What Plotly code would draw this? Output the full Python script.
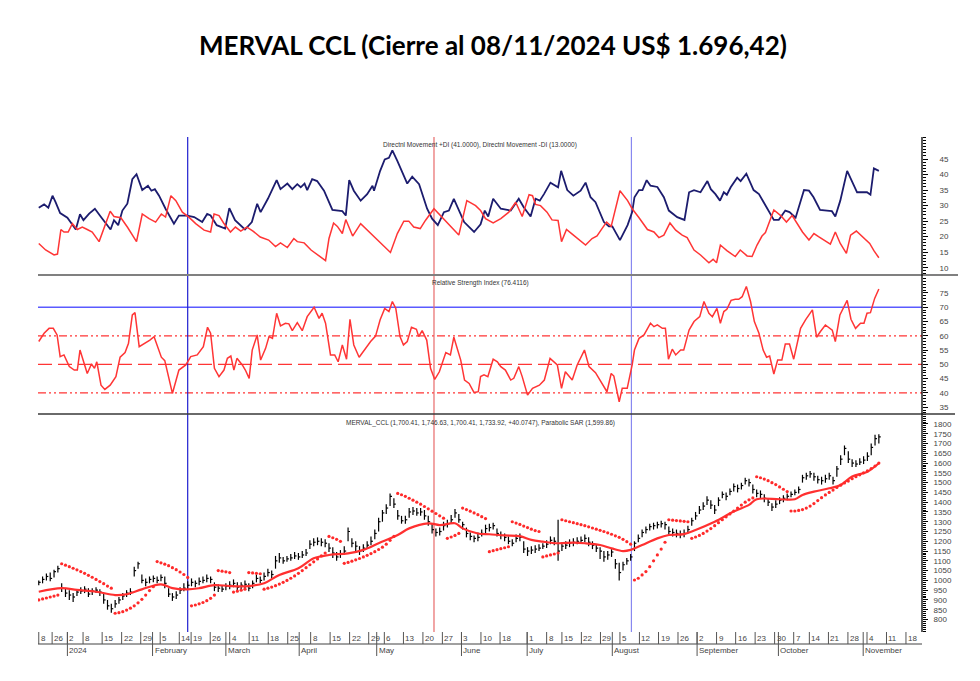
import plotly.graph_objects as go

# page has an 8px body margin, so the figure is drawn 8px smaller and positions are shifted
OFF = 8
W, H = 980 - OFF, 681 - OFF

# ---- price bars (one per trading day) ----
cl = [990, 1005, 1020, 1010, 1045, 1060, 960, 935, 925, 915,
      940, 945, 955, 930, 945, 950, 940, 900, 870, 855,
      880, 900, 920, 935, 940, 1050, 1085, 1000, 990, 1005,
      1010, 1000, 1015, 985, 930, 915, 925, 950, 960, 975,
      990, 985, 995, 1000, 1010, 1005, 965, 960, 955, 970,
      975, 985, 965, 975, 980, 960, 985, 1010, 1000, 1020,
      1040, 1030, 1100, 1115, 1100, 1110, 1115, 1125, 1120, 1130,
      1140, 1185, 1195, 1200, 1195, 1190, 1165, 1140, 1120, 1135,
      1150, 1250, 1190, 1175, 1150, 1165, 1180, 1200, 1240, 1300,
      1345, 1370, 1430, 1390, 1330, 1305, 1310, 1350, 1355, 1345,
      1350, 1330, 1300, 1260, 1245, 1250, 1280, 1290, 1310, 1345,
      1310, 1285, 1240, 1225, 1215, 1220, 1240, 1265, 1270, 1280,
      1240, 1230, 1220, 1200, 1190, 1215, 1220, 1160, 1150, 1155,
      1160, 1165, 1175, 1185, 1205, 1200, 1150, 1175, 1180, 1190,
      1195, 1200, 1205, 1215, 1195, 1180, 1165, 1150, 1120, 1130,
      1145, 1085, 1040, 1080, 1100, 1120, 1190, 1215, 1245, 1260,
      1275, 1280, 1285, 1290, 1285, 1250, 1245, 1240, 1235, 1240,
      1260, 1305, 1330, 1360, 1380, 1410, 1385, 1360, 1410, 1440,
      1430, 1455, 1480, 1470, 1485, 1510, 1500, 1465, 1445, 1440,
      1420, 1400, 1375, 1390, 1410, 1420, 1430, 1440, 1450, 1465,
      1525, 1535, 1545, 1530, 1515, 1510, 1520, 1535, 1510, 1570,
      1620, 1675, 1620, 1600, 1595, 1605, 1615, 1635, 1680, 1725, 1734]
hi = [1000, 1020, 1035, 1040, 1055, 1075, 985, 960, 950, 935,
      955, 965, 970, 960, 960, 965, 955, 935, 900, 880,
      900, 915, 935, 950, 960, 1070, 1095, 1030, 1010, 1020,
      1025, 1020, 1030, 1020, 960, 935, 945, 965, 985, 995,
      1010, 1000, 1015, 1020, 1030, 1020, 990, 980, 975, 985,
      995, 1005, 990, 990, 1000, 985, 1000, 1030, 1020, 1040,
      1060, 1050, 1125, 1140, 1120, 1125, 1135, 1145, 1140, 1150,
      1160, 1205, 1215, 1220, 1215, 1210, 1190, 1170, 1145, 1155,
      1175, 1270, 1215, 1200, 1175, 1185, 1200, 1225, 1260, 1320,
      1360, 1390, 1445, 1420, 1360, 1330, 1330, 1370, 1375, 1370,
      1370, 1360, 1330, 1290, 1265, 1270, 1300, 1310, 1335, 1365,
      1340, 1300, 1270, 1245, 1230, 1245, 1260, 1285, 1290, 1295,
      1265, 1250, 1240, 1225, 1210, 1235, 1240, 1200, 1170, 1175,
      1180, 1185, 1190, 1205, 1225, 1220, 1310, 1195, 1200, 1210,
      1215, 1220, 1225, 1235, 1220, 1200, 1185, 1170, 1150, 1150,
      1160, 1110, 1090, 1095, 1115, 1135, 1200, 1235, 1260, 1275,
      1290, 1295, 1300, 1305, 1300, 1275, 1265, 1260, 1255, 1260,
      1280, 1320, 1350, 1380, 1400, 1430, 1410, 1385, 1425, 1455,
      1450, 1470, 1495, 1490, 1500, 1525, 1520, 1490, 1465, 1460,
      1440, 1420, 1395, 1410, 1425, 1435, 1445, 1455, 1465, 1480,
      1540, 1550, 1560, 1550, 1535, 1530, 1540, 1550, 1530, 1585,
      1640, 1690, 1660, 1620, 1615, 1625, 1635, 1655, 1700, 1745, 1747]
lo = [975, 985, 1000, 995, 1015, 1040, 940, 915, 900, 890,
      920, 930, 935, 915, 925, 935, 920, 880, 850, 835,
      860, 880, 900, 915, 925, 1020, 1060, 985, 970, 985,
      990, 985, 995, 960, 915, 895, 905, 930, 945, 955,
      970, 965, 975, 985, 990, 985, 945, 940, 940, 950,
      955, 965, 945, 955, 960, 945, 960, 990, 985, 1000,
      1020, 1010, 1060, 1090, 1085, 1095, 1100, 1110, 1105, 1115,
      1125, 1160, 1175, 1180, 1175, 1170, 1145, 1115, 1100, 1115,
      1130, 1200, 1170, 1150, 1130, 1145, 1160, 1180, 1210, 1250,
      1300, 1340, 1380, 1370, 1310, 1290, 1290, 1320, 1335, 1330,
      1330, 1310, 1280, 1240, 1225, 1230, 1255, 1270, 1290, 1320,
      1295, 1260, 1220, 1205, 1195, 1200, 1225, 1240, 1250, 1260,
      1225, 1210, 1200, 1185, 1175, 1195, 1200, 1140, 1125, 1135,
      1140, 1150, 1160, 1165, 1185, 1180, 1100, 1150, 1160, 1170,
      1175, 1185, 1190, 1195, 1175, 1160, 1145, 1110, 1095, 1105,
      1120, 1060, 1000, 1050, 1080, 1100, 1150, 1195, 1220, 1240,
      1255, 1260, 1265, 1270, 1260, 1230, 1225, 1220, 1215, 1220,
      1240, 1280, 1310, 1340, 1360, 1385, 1365, 1340, 1380, 1420,
      1410, 1435, 1455, 1450, 1465, 1490, 1480, 1445, 1425, 1420,
      1400, 1380, 1355, 1370, 1390, 1400, 1410, 1425, 1435, 1445,
      1500, 1515, 1525, 1510, 1495, 1490, 1500, 1515, 1490, 1530,
      1590, 1640, 1600, 1580, 1580, 1590, 1595, 1610, 1640, 1690, 1700]

# parabolic SAR, one dot per day
sar = [900, 905, 910, 915, 920, 925,
       1085, 1078, 1070, 1062, 1054, 1045, 1036, 1026, 1016, 1005, 994, 983, 971, 960,
       832, 835, 840, 848, 858, 870, 885, 903, 925, 948, 968,
       1096, 1090, 1083, 1075, 1065, 1055, 1043, 1030, 1015,
       870, 874, 880, 887, 896, 908, 925,
       1050, 1047, 1044, 1040,
       940, 945, 950, 955,
       1040, 1038, 1036, 1034,
       955, 960, 966, 973, 981, 990, 1000, 1011, 1023, 1036, 1050, 1065, 1080, 1095, 1110, 1125, 1140,
       1225, 1218, 1210, 1200,
       1087, 1092, 1098, 1105, 1112, 1120, 1128, 1137, 1147, 1158, 1170, 1185, 1205, 1225,
       1445, 1438, 1430, 1420, 1410, 1400, 1390, 1378, 1366, 1354, 1342, 1330, 1318,
       1215, 1222, 1230, 1240,
       1370, 1362, 1354, 1345, 1336, 1326, 1316,
       1147, 1152, 1157, 1162, 1167, 1172,
       1300, 1293, 1286, 1278, 1270, 1262, 1255, 1250,
       1120, 1125, 1130, 1135, 1140,
       1310, 1305, 1300, 1295, 1290, 1285, 1280, 1274, 1268, 1262, 1256, 1250, 1243, 1236, 1228, 1220, 1210, 1198, 1185,
       1002, 1011, 1028, 1045, 1070, 1100, 1130, 1160, 1195,
       1310, 1308, 1306, 1304, 1302, 1300,
       1215, 1222, 1230, 1240, 1252, 1265, 1280, 1295, 1310, 1325, 1340, 1355, 1370, 1385, 1400, 1412, 1422,
       1530, 1525, 1518, 1510, 1500, 1490, 1478, 1466, 1454,
       1355, 1355, 1358, 1362, 1370, 1380, 1393, 1408, 1423, 1437, 1450, 1462, 1475, 1487, 1498, 1508,
       1520, 1530, 1540, 1550, 1560, 1572, 1585, 1600]

# moving average (read at turning points)
ma_x = [0, 6, 10, 15, 20, 23, 27, 32, 35, 39, 42, 46, 50, 55, 59, 63, 68, 72, 76, 81, 85, 89, 94, 97,
        102, 105, 109, 111, 115, 118, 122, 126, 129, 132, 136, 140, 143, 147, 150, 153, 155, 158, 162,
        165, 169, 172, 177, 182, 186, 188, 194, 198, 200, 203, 207, 210, 213, 217, 220]
ma_y = [942, 960, 951, 942, 925, 929, 954, 980, 960, 954, 960, 976, 971, 971, 985, 1028, 1062, 1113, 1130,
        1138, 1156, 1190, 1232, 1266, 1292, 1283, 1292, 1266, 1240, 1236, 1230, 1226, 1207, 1198, 1190,
        1193, 1190, 1181, 1164, 1150, 1156, 1181, 1215, 1232, 1237, 1258, 1300, 1352, 1386, 1415, 1415,
        1415, 1437, 1454, 1471, 1488, 1531, 1556, 1599]

# directional movement
dip_x = [0, 1.4, 2.5, 3.6, 4.4, 5.6, 7.5, 9.7, 10.8, 11.7, 13.2, 14.7, 16.2, 18.8, 19.7, 20.8, 21.9, 23.2,
         24.5, 25.6, 27.1, 28.6, 29.5, 30.4, 31.5, 33.2, 35.4, 36.7, 38.9, 40.7, 42.8, 44.1, 45, 46.6,
         48.8, 49.9, 51.4, 54, 55.8, 57.2, 58.1, 60, 62.3, 63.3, 65.1, 66.4, 67.7, 68.6, 69.6, 70.3, 71.6,
         72.9, 74.7, 76.9, 79.5, 80.4, 81.3, 82.5, 84.3, 86, 87.4, 87.8, 89.4, 90.6, 91.7, 92.6, 93.9,
         96.5, 97.8, 99.6, 101.7, 103, 104.5, 106.1, 107.4, 108.7, 111.4, 114, 115.7, 116.8, 117.7, 119,
         121, 123.6, 124.5, 125.7, 127, 128.8, 130.1, 131.2, 132.3, 134, 136, 136.8, 138.4, 140, 141.9,
         143.2, 144.5, 145.8, 148, 149.3, 150.2, 152.2, 154.2, 155.4, 156, 157.2, 158.1, 159.2, 160.2,
         162, 163.7, 165, 167.2, 169.1, 170.3, 171.6, 173.3, 175.1, 176, 177.2, 178.4, 179.4, 180.2,
         181.2, 182.9, 183.8, 185.3, 187.2, 188.6, 190.3, 192.5, 193.8, 195.5, 196.6, 198.2, 200.4,
         201.7, 202.9, 204.6, 206.4, 207.7, 208.6, 209.9, 211.7, 214.3, 216.9, 217.8, 218.7, 220]
dip_y = [29.3, 30.4, 29.3, 33.2, 31.1, 27.6, 26.1, 22.3, 27.2, 25.3, 27.4, 29, 26.5, 22.3, 25.3, 23.7, 28.4,
         30.6, 38.5, 40.1, 35, 36.4, 34.8, 35.3, 33.2, 29, 24.2, 26.8, 26.8, 26.3, 24.7, 27.3, 26.8, 23.7,
         22.6, 29.2, 25.3, 22.3, 24.7, 30.6, 27.9, 32.2, 38.2, 35.3, 37.1, 35.3, 36.9, 35.9, 37.1, 35,
         38.5, 37.9, 34.8, 28.6, 28.2, 26.8, 38.2, 34.8, 31.6, 33.7, 36.4, 34.8, 41.2, 44.9, 45.4, 47.8,
         44.4, 37.1, 39.3, 36.9, 29, 25.8, 23.7, 27.9, 28.4, 32.2, 24.7, 21.5, 24, 28.4, 26.5, 32.2, 29,
         28.4, 30, 32.2, 29.5, 26.5, 32.2, 31.6, 33.7, 37.4, 35.9, 41.2, 35, 33.2, 34.8, 37.4, 32.7, 31.1,
         24.7, 23.3, 23.3, 18.9, 23.7, 27.9, 32.7, 35, 35, 38.2, 36.4, 36, 32.7, 28.4, 26.3, 25.4, 34.3,
         35, 34.3, 37.9, 35.3, 33.7, 31.6, 34.3, 33.5, 35.9, 39, 37.9, 40.3, 35, 33.7, 30, 25.4, 25.4,
         28.4, 27.9, 26.1, 35, 34.8, 32.7, 28.6, 28.4, 28.2, 26.5, 31.6, 41.2, 34.3, 34.3, 33.5, 42, 41.2]
dim_x = [0, 1.8, 4, 4.9, 5.8, 6.6, 7.7, 8.8, 10.1, 11.4, 12.7, 14, 15.8, 17.1, 18.7, 19.7, 21.5, 23.2, 25.6,
         27.1, 28.9, 30.6, 32.1, 33.2, 34.6, 35.9, 37.6, 39.3, 41.1, 43.3, 45, 45.9, 47.2, 48.4, 50.2,
         51.5, 52.9, 54.5, 56.1, 58, 60.2, 62, 63.3, 65.1, 66.8, 67.7, 69.5, 71.3, 72.6, 74.2, 75.1, 76,
         77.2, 78.2, 79.5, 80.4, 82.2, 84.3, 86, 88.7, 90.8, 92.1, 93.9, 95.6, 96.9, 98.2, 99.9, 101.3,
         103.5, 105.2, 107.4, 110, 112.1, 114.4, 115.7, 117, 119, 121, 123.1, 124.9, 126.6, 128.4, 129.3,
         130.1, 131.4, 133.1, 134.4, 136, 136.9, 138.2, 139.7, 141, 143.2, 144.9, 146.2, 147.5, 148.7,
         149.9, 152.2, 154.2, 155.4, 157.2, 159.4, 161.1, 162.4, 163.7, 165.3, 166.8, 168.5, 169.8,
         171.6, 173.3, 175.5, 176.6, 177.5, 178.5, 180.2, 182.4, 183.7, 185.5, 186.8, 188.1, 189.4,
         190.3, 191.4, 192.5, 194.3, 195.8, 197.3, 198.6, 200, 201.7, 203, 204.2, 205.6, 207.3, 208.6,
         209.9, 211.5, 212.6, 214.1, 216.1, 217.6, 218.7, 220]
dim_y = [17.8, 15.7, 14.1, 14.4, 22.3, 21.5, 21.5, 24.2, 22.3, 23.1, 22.3, 21.5, 18.4, 23.1, 28.2, 26.5,
         26.1, 23.1, 18.4, 27.3, 25.8, 24.7, 27.3, 26.3, 33.2, 31.6, 27.9, 26.3, 24.2, 22.1, 21.5, 27.3,
         26.8, 24.4, 21.5, 23.1, 21.8, 23.1, 21.8, 19.9, 18.9, 16.8, 18, 16.5, 19.4, 18.4, 18, 15.7, 14.6,
         13.1, 12.3, 19.4, 24.4, 23.3, 21, 25.5, 20.2, 24.2, 22.1, 18.9, 16.2, 14.9, 21, 25, 25, 23.1,
         22.6, 25.3, 29, 26.8, 23.7, 20.5, 31.6, 30, 28.4, 25.8, 24.4, 25.8, 27.9, 31.1, 26.5, 33.5, 33.2,
         30.4, 30, 27.9, 25.4, 25.2, 18.4, 22.3, 20.8, 19.4, 17.3, 19.4, 20.2, 22.6, 24.7, 23.3, 34.8,
         31.6, 29, 26.1, 22.3, 21.5, 19.7, 20.5, 24.4, 22.1, 20.5, 19.7, 15.7, 14.1, 11.6, 12.7, 11.6,
         17.3, 15.5, 13.6, 15.7, 13.8, 13.6, 17.3, 20.2, 21.3, 25.2, 28.6, 26.8, 24.7, 26.8, 24.2, 21.5,
         18.9, 21, 20, 18.9, 17.6, 21.5, 17.8, 14.6, 20.5, 21.8, 19.4, 17.8, 15.5, 13.2]

# relative strength index
rsi_x = [0, 1.4, 2.7, 3.8, 4.8, 5.6, 6.6, 8, 9.3, 10.1, 10.8, 11.9, 12.7, 13.8, 14.6, 15.2, 16.3, 17.3,
         18.7, 20.2, 21.3, 22.6, 23.5, 24.5, 25.2, 26.3, 27.8, 29.1, 30.2, 32.1, 33, 34.1, 35, 36.7, 38.5,
         39.8, 41.5, 43.1, 44.2, 45, 46, 47.2, 48.5, 49.4, 50.3, 51.1, 51.9, 53.3, 54.1, 55.1, 55.9,
         57.2, 58.1, 59.4, 60.3, 61.2, 62.3, 63.3, 64.6, 65.5, 66.4, 67.7, 69, 70.3, 72.1, 73.4, 74.2,
         75.1, 76.4, 77.5, 78.4, 79.5, 80.6, 81.5, 82.5, 83.9, 85.2, 86.9, 88.2, 89.4, 90.6, 91.7, 92.6,
         93.5, 94.6, 95.5, 96.5, 97.6, 98.9, 99.5, 100.4, 101.6, 102.6, 103.7, 104.9, 106.6, 107.8,
         108.7, 110.5, 111.5, 112.7, 114, 115.1, 115.7, 116.6, 117.6, 119, 120.1, 121, 122.2, 123.6,
         124.4, 125.7, 126.6, 128, 129.3, 131.1, 132.4, 133.9, 135.8, 136.9, 137.9, 139.7, 141, 142.9,
         144.1, 145.8, 147.5, 148.8, 149.9, 150.6, 152, 152.8, 154.1, 155.4, 156, 157.2, 158.5, 160.2,
         161.1, 162, 163.3, 164.1, 164.9, 165.9, 166.8, 168.1, 168.9, 170.3, 171.6, 173.1, 174.2, 175.5,
         176.4, 177.6, 178.5, 179.4, 180.2, 181.3, 182.4, 183.3, 184.2, 185.3, 186.4, 187.4, 188.6,
         189.7, 190.6, 191.4, 192.5, 193.5, 194.6, 195.5, 196.6, 197.7, 199.5, 200.8, 202.6, 203.7,
         204.7, 206, 207.8, 208.6, 209.8, 211.7, 212.7, 213.9, 215.2, 216.1, 216.9, 217.8, 218.9, 220]
rsi_y = [58, 60.9, 62.6, 62.6, 60.3, 52.7, 53.3, 49.2, 48, 48, 55, 49.8, 46.8, 50.1, 48.6, 50.9, 42.7, 41.2,
         42.7, 45.7, 52.5, 54.1, 57.4, 67.3, 68.1, 56.2, 57.4, 58.5, 59.7, 52.5, 51.3, 44.5, 39.8, 48, 49.8,
         52.7, 53.3, 56.2, 63, 60.9, 48.6, 45.7, 48, 52.1, 52.9, 48, 52.1, 49.8, 48, 45.1, 55, 60.3, 51.5,
         55.6, 59.7, 59.1, 67.9, 63.5, 64.4, 64.2, 61.8, 64.6, 61.8, 66.7, 70, 66.1, 67.9, 64.4, 53.3,
         53.3, 50.9, 56.8, 51.8, 65.8, 56.8, 52.5, 55, 58, 59.9, 65.6, 69.6, 68.5, 72, 69.6, 59.7, 56.8,
         58, 63, 62.3, 59.7, 61.8, 58.5, 48.6, 44.7, 47.4, 54.1, 53.3, 59.5, 51.5, 44.5, 43.3, 40.1, 40.4,
         45.7, 46.3, 45.7, 51.8, 50.9, 49.2, 48, 44.5, 45.1, 49.2, 45.7, 39.2, 41.6, 42.7, 44.5, 52.1,
         49.8, 41.6, 47.4, 44.5, 49.8, 55, 49.2, 47.1, 43.3, 40.4, 46.8, 45.9, 36.9, 41.6, 41.6, 49.8, 55,
         59.1, 60.3, 64.4, 63.2, 63.8, 62.6, 62.6, 51.8, 55.3, 53.3, 55, 55, 62, 65, 66.7, 72, 67.9, 66.7,
         69.6, 64.4, 68.5, 69.3, 72.4, 72.8, 72.8, 73.7, 77.3, 72, 65, 60.9, 55, 52.5, 52.9, 46.6, 51.5,
         51.5, 57.1, 57.1, 51.8, 62.6, 65.6, 69.1, 59.5, 61.5, 63.8, 62, 58, 67.3, 72.4, 65.8, 62.6, 64.4,
         64.4, 67.9, 68.1, 73.1, 76.4]
rsi_levels = [70, 60, 50, 40]

# marker lines and date axis
vlines = [39.0, 103.5, 155.2]
week_x = [0, 3.5, 7.5, 11.6, 16.6, 21.7, 26.7, 31.8, 36.8, 39.9, 44.9, 50.0, 55.1, 60.1, 65.2, 71.2,
          76.3, 81.4, 86.4, 90.5, 95.5, 100.6, 105.7, 110.7, 115.8, 120.8, 127.9, 133.0, 137.0, 142.1,
          147.1, 152.2, 157.3, 162.3, 167.4, 172.4, 177.5, 182.5, 187.6, 192.7, 197.7, 201.8, 206.8,
          211.9, 216.9, 222.0, 227.1]
week_lbl = ["8", "26", "2", "8", "15", "22", "29", "5", "14", "19", "26", "4", "11", "18", "25", "8",
            "15", "22", "29", "6", "13", "20", "27", "3", "10", "18", "1", "8", "15", "22", "29", "5",
            "12", "19", "26", "2", "9", "16", "23", "30", "7", "14", "21", "28", "4", "11", "18"]
month_x = [7.5, 29.8, 49.0, 68.2, 88.5, 110.7, 127.9, 150.2, 172.4, 193.7, 215.9]
month_lbl = ["2024", "February", "March", "April", "May", "June", "July", "August", "September",
             "October", "November"]


def px_x(px):
    return (px - OFF) / W


def px_y(px):
    return 1 - (px - OFF) / H


X0, X1 = px_x(38), px_x(922)
TOP, SEP1, SEP2, BOT = 137, 275, 414, 632
FONT = "Liberation Sans, Arial, sans-serif"

fig = go.Figure()

# top panel: DI
fig.add_trace(go.Scatter(x=dip_x, y=dip_y, mode="lines", line=dict(color="#1c1c6e", width=1.8),
                         xaxis="x3", yaxis="y3"))
fig.add_trace(go.Scatter(x=dim_x, y=dim_y, mode="lines", line=dict(color="#ff3535", width=1.5),
                         xaxis="x3", yaxis="y3"))

# middle panel: RSI
fig.add_trace(go.Scatter(x=rsi_x, y=rsi_y, mode="lines", line=dict(color="#ff3535", width=1.5),
                         xaxis="x2", yaxis="y2"))

# bottom panel: bars, MA, SAR
bx, by = [], []
for i, (l, h, c) in enumerate(zip(lo, hi, cl)):
    bx += [i, i, None, i, i + 0.5, None]
    by += [l, h, None, c, c, None]
fig.add_trace(go.Scatter(x=bx, y=by, mode="lines", line=dict(color="black", width=1.2)))
fig.add_trace(go.Scatter(x=ma_x, y=ma_y, mode="lines", line=dict(color="#ff3030", width=2.2, shape="spline")))
fig.add_trace(go.Scatter(x=list(range(len(sar))), y=sar, mode="markers",
                         marker=dict(color="#ff2a2a", size=3.2)))

xr = [-0.2, 231.3]
xcommon = dict(range=xr, domain=[X0, X1], showgrid=False, zeroline=False, showticklabels=False,
               showline=False, ticks="")
ycommon = dict(side="right", showgrid=False, zeroline=False, showline=False, ticks="outside",
               ticklen=5, tickwidth=1, tickcolor="black",
               tickfont=dict(family=FONT, size=8, color="#444"))

fig.update_layout(
    width=W, height=H, margin=dict(l=0, r=0, t=0, b=0),
    paper_bgcolor="white", plot_bgcolor="white", showlegend=False,
    xaxis=dict(anchor="y", **xcommon),
    xaxis2=dict(anchor="y2", **xcommon),
    xaxis3=dict(anchor="y3", **xcommon),
    yaxis=dict(anchor="x", domain=[px_y(BOT), px_y(SEP2)], range=[736, 1851],
               tickvals=list(range(800, 1801, 50)), ticklabelstandoff=4,
               minor=dict(dtick=10, ticks="outside", ticklen=2.5, tickcolor="black"), **ycommon),
    yaxis2=dict(anchor="x2", domain=[px_y(SEP2), px_y(SEP1)], range=[32.6, 81.3],
                tickvals=list(range(35, 76, 5)), ticklabelstandoff=10,
                minor=dict(dtick=1, ticks="outside", ticklen=2.5, tickcolor="black"), **ycommon),
    yaxis3=dict(anchor="x3", domain=[px_y(SEP1), px_y(TOP)], range=[7.65, 52.1],
                tickvals=list(range(10, 46, 5)), ticklabelstandoff=10,
                minor=dict(dtick=1, ticks="outside", ticklen=2.5, tickcolor="black"), **ycommon),
)

shapes = []
# RSI reference lines
styles = {70: ("#5a5aff", "solid", 1.6), 60: ("#ff3535", "8px,3px,2px,3px,2px,3px", 1.2),
          50: ("#ff3535", "14px,6px", 1.2), 40: ("#ff3535", "8px,3px,2px,3px,2px,3px", 1.2)}
for lv in rsi_levels:
    col, dash, wd = styles[lv]
    shapes.append(dict(type="line", xref="paper", yref="y2", x0=X0, x1=X1, y0=lv, y1=lv,
                       line=dict(color=col, width=wd, dash=dash), layer="below"))
# vertical marker lines
for vx, col in zip(vlines, ["#2020d0", "#e86a6a", "#8888f0"]):
    shapes.append(dict(type="line", xref="x", yref="paper", x0=vx, x1=vx, y0=px_y(BOT), y1=px_y(TOP),
                       line=dict(color=col, width=1.2), layer="below"))
# panel separators and axis frame
shapes.append(dict(type="line", xref="paper", yref="paper", x0=X0, x1=px_x(958), y0=px_y(SEP1),
                   y1=px_y(SEP1), line=dict(color="#808080", width=2)))
shapes.append(dict(type="line", xref="paper", yref="paper", x0=X0, x1=px_x(955), y0=px_y(SEP2),
                   y1=px_y(SEP2), line=dict(color="#383838", width=1.5)))
shapes.append(dict(type="line", xref="paper", yref="paper", x0=X1, x1=X1, y0=px_y(BOT), y1=px_y(TOP),
                   line=dict(color="black", width=1.3)))
shapes.append(dict(type="line", xref="paper", yref="paper", x0=X0, x1=X1, y0=px_y(644), y1=px_y(644),
                   line=dict(color="#808080", width=1.5)))
# date ticks
for wx in week_x:
    shapes.append(dict(type="line", xref="x", yref="paper", x0=wx, x1=wx, y0=px_y(BOT), y1=px_y(644),
                       line=dict(color="#555", width=1)))
for mx in month_x:
    shapes.append(dict(type="line", xref="x", yref="paper", x0=mx, x1=mx, y0=px_y(BOT), y1=px_y(656),
                       line=dict(color="#555", width=1)))

ann = []
ann.append(dict(text="<b>MERVAL CCL (Cierre al 08/11/2024 US$ 1.696,42)</b>", x=px_x(493), y=px_y(45),
                xref="paper", yref="paper", showarrow=False, xanchor="center", yanchor="middle",
                font=dict(family="Lato, sans-serif", size=26, color="black")))
hdr = [("Directnl Movement +DI (41.0000), Directnl Movement -DI (13.0000)", 145),
       ("Relative Strength Index (76.4116)", 283),
       ("MERVAL_CCL (1,700.41, 1,746.63, 1,700.41, 1,733.92, +40.0747), Parabolic SAR (1,599.86)", 423)]
for t, yy in hdr:
    ann.append(dict(text=t, x=px_x(480), y=px_y(yy), xref="paper", yref="paper", showarrow=False,
                    xanchor="center", yanchor="middle", font=dict(family=FONT, size=6.5, color="#333")))
for wx, t in zip(week_x, week_lbl):
    ann.append(dict(text=t, x=wx, y=px_y(638.5), xref="x", yref="paper", showarrow=False,
                    xanchor="left", yanchor="middle",
                    font=dict(family=FONT, size=8, color="#444")))
for mx, t in zip(month_x, month_lbl):
    ann.append(dict(text=t, x=mx, y=px_y(650.5), xref="x", yref="paper", showarrow=False,
                    xanchor="left", yanchor="middle",
                    font=dict(family=FONT, size=8, color="#444")))

fig.update_layout(shapes=shapes, annotations=ann)
fig.write_html("out.html")
